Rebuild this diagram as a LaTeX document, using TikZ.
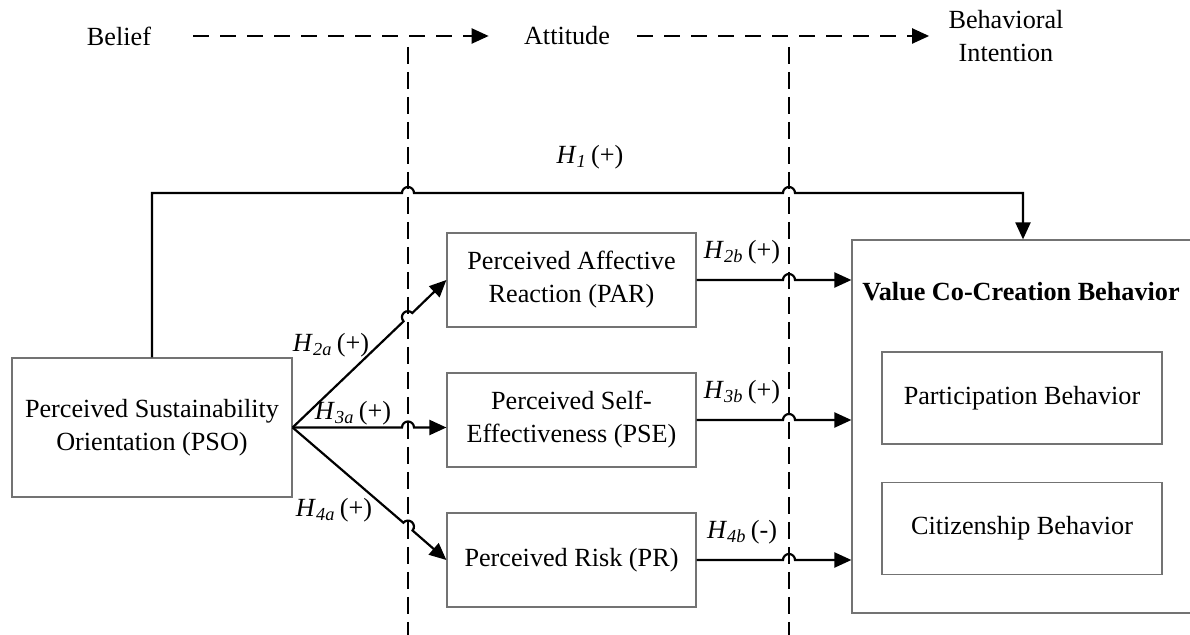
\documentclass[tikz,border=0pt]{standalone}
\usepackage{fontspec}
\setmainfont{Liberation Serif}
\usetikzlibrary{arrows.meta,calc}
\newcommand\hyp[2]{\textit{H}\textsubscript{\textit{#1}}\,(#2)}
\begin{document}
\begin{tikzpicture}[x=0.5pt,y=-0.5pt,
  every node/.style={font=\fontsize{13.1}{16.5}\selectfont, inner sep=0pt},
  box/.style={draw=black!55, line width=0.6pt, align=center},
  sbox/.style={box, minimum width=124.5pt, minimum height=47pt},
  rbox/.style={box, minimum width=140pt, minimum height=46pt},
  tip/.style={-{Triangle[length=8.5pt,width=7.5pt]}},
  conn/.style={line width=1.1pt, tip},
  dasharr/.style={line width=1.1pt, dash pattern=on 8pt off 5.5pt, tip},
  dashv/.style={line width=1pt, dash pattern=on 8.5pt off 4pt},
  hop/.style={radius=3pt}]
\useasboundingbox (0,0) rectangle (1190,635);
\clip (0,0) rectangle (1190,635);

% stage headings
\node (belief) at (119,36) {Belief};
\node (attitude) at (567,36) {Attitude};
\node[align=center] (behint) at (1006,36) {Behavioral\\Intention};
\draw[dasharr] ([xshift=21pt]belief.east) -- ([xshift=-17.5pt]attitude.west);
\draw[dasharr] ([xshift=13.5pt]attitude.east) -- ([xshift=-9.5pt]behint.west);

% vertical dashed separators
\coordinate (d1t) at (408,47);
\coordinate (d1b) at (408,640);
\coordinate (d2t) at (789,47);
\coordinate (d2b) at (789,640);
\draw[dashv] (d1t) -- (d1b);
\draw[dashv] (d2t) -- (d2b);

% boxes
\node[box, minimum width=140pt, minimum height=69.5pt] (pso) at (152,427.5)
  {Perceived Sustainability\\Orientation (PSO)};
\node[sbox] (par) at (571.5,280) {Perceived Affective\\Reaction (PAR)};
\node[sbox] (pse) at (571.5,420) {Perceived Self-\\Effectiveness (PSE)};
\node[sbox] (pr) at (571.5,560) {Perceived Risk (PR)};
\node[box, minimum width=174pt, minimum height=186.5pt] (vccb) at (1026,426.5) {};
\node[font=\fontsize{13.1}{16.5}\selectfont\bfseries] (vtitle) at (1021,292) {Value Co-Creation Behavior};
\node[rbox] (part) at (1022,398) {Participation Behavior};
\node[rbox] (cit) at (1022,528.5) {Citizenship Behavior};

% H1
\coordinate (h1a) at (152,193);
\coordinate (h1b) at (1023,193);
\draw[conn] (pso.north) -- (h1a) -- (402,193) arc[start angle=180,end angle=0,hop]
  -- (783,193) arc[start angle=180,end angle=0,hop] -- (h1b) -- (h1b |- vccb.north);
\node (lh1) at (590,157) {\hyp{1}{+}};

% PSO -> mediators
\draw[conn] (pso.east) -- (403.6,321.3) arc[start angle=223.6,end angle=43.6,hop] -- (par.west);
\draw[conn] (pso.east) -- (402,427.5) arc[start angle=180,end angle=0,hop] -- (pso.east -| pse.west);
\draw[conn] (pso.east) -- (403.4,522.7) arc[start angle=139.5,end angle=-40.5,hop] -- (pr.west);
\node (lh2a) at (331,345) {\hyp{2a}{+}};
\node (lh3a) at (353,413) {\hyp{3a}{+}};
\node (lh4a) at (334,510) {\hyp{4a}{+}};

% mediators -> VCCB
\draw[conn] (par.east) -- (783,280) arc[start angle=180,end angle=0,hop] -- (par.east -| vccb.west);
\draw[conn] (pse.east) -- (783,420) arc[start angle=180,end angle=0,hop] -- (pse.east -| vccb.west);
\draw[conn] (pr.east) -- (783,560) arc[start angle=180,end angle=0,hop] -- (pr.east -| vccb.west);
\node (lh2b) at (742,252) {\hyp{2b}{+}};
\node (lh3b) at (742,392) {\hyp{3b}{+}};
\node (lh4b) at (742,532) {\hyp{4b}{-}};
\end{tikzpicture}
\end{document}
